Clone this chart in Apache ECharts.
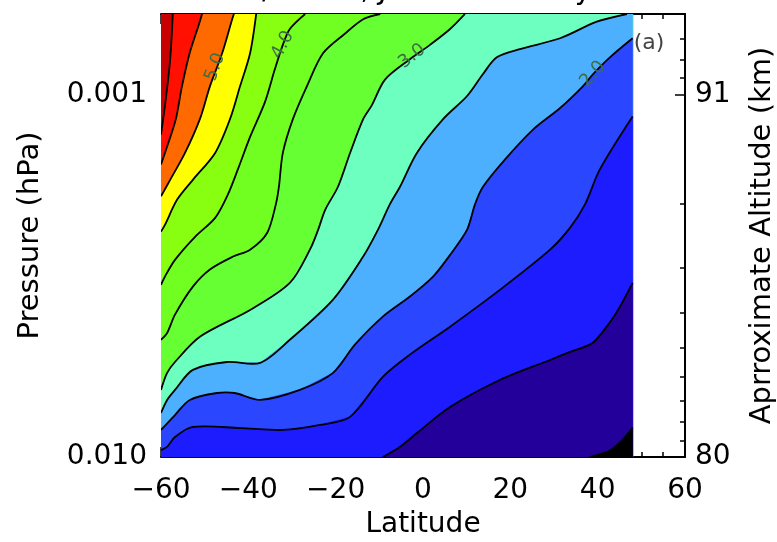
<!DOCTYPE html>
<html><head><meta charset="utf-8">
<script src="https://cdn.jsdelivr.net/npm/echarts@6/dist/echarts.min.js"></script>
<style>html,body{margin:0;padding:0;background:#fff}#c{width:777px;height:542px}</style>
</head><body><div id="c"></div>
<script>
// ---- data (latitude in degrees, pressure in hPa) ----
const levels = [6.0, 5.5, 5.0, 4.5, 4.0, 3.5, 3.0, 2.5, 2.0, 1.5, 1.0, 0.5];
// bandColors[0] = above 6.0 ; bandColors[i+1] = band just below levels[i]
const bandColors = ['#c80000', '#ff1000', '#ff6a00', '#ffff00', '#88ff10', '#70ff20', '#66ff33',
                    '#6cffc0', '#4db0ff', '#2a46ff', '#1c1cff', '#24009a', '#000000'];
const c60 = [[-57.3,0.0006],[-57.9,0.0008],[-58.9,0.00103],[-60,0.00129]];
const c55 = [[-50.6,0.0006],[-51.3,0.00064],[-53.4,0.000766],[-55.2,0.00095],[-56.6,0.00117],[-58.4,0.00137],[-60,0.00156]];
const c50 = [[-43.3,0.0006],[-43.7,0.00062],[-46.0,0.00077],[-48.8,0.00095],[-51.1,0.00117],[-54.5,0.00145],[-57.9,0.00172],[-60,0.00191]];
const c45 = [[-38.2,0.0006],[-39.6,0.00077],[-41.9,0.00095],[-44.2,0.00117],[-47.6,0.00145],[-52.7,0.00172],[-56.3,0.00195],[-59.1,0.00229],[-60,0.00239]];
const c40 = [[-27.0,0.0006],[-30.5,0.00066],[-32.1,0.00073],[-33.9,0.00085],[-36.2,0.00105],[-39.6,0.00131],[-42.4,0.00161],[-44.7,0.00189],[-47.6,0.00219],[-52.2,0.00247],[-56.8,0.00286],[-59.1,0.00318],[-60,0.00335]];
const c35 = [[-9.8,0.0006],[-13.7,0.00062],[-17.9,0.00068],[-22.9,0.00077],[-26.6,0.00095],[-29.8,0.00117],[-32.1,0.00145],[-33.0,0.0018],[-33.7,0.00201],[-35.7,0.00241],[-39.6,0.00268],[-43.5,0.0028],[-48.8,0.00304],[-52.7,0.00339],[-56.8,0.00405],[-58.6,0.00455],[-60,0.00475]];
const c30 = [[9.6,0.0006],[6.2,0.00066],[1.6,0.00073],[-3.0,0.0008],[-8.7,0.00091],[-11.7,0.00107],[-13.7,0.00117],[-16.7,0.00145],[-19.5,0.0018],[-22.4,0.00208],[-24.0,0.00236],[-25.9,0.00268],[-30.5,0.00331],[-39.6,0.00393],[-51.1,0.00466],[-56.8,0.00547],[-58.6,0.00586],[-60,0.00653]];
const c25 = [[46.7,0.0006],[39.8,0.00063],[31.4,0.0007],[22.2,0.00075],[16.9,0.00079],[13.7,0.00088],[10.1,0.00101],[4.6,0.00117],[-1.4,0.00145],[-5.3,0.0018],[-7.6,0.00201],[-10.3,0.00236],[-13.7,0.0028],[-20.6,0.00368],[-30.5,0.00475],[-37.3,0.0055],[-44.9,0.00547],[-52.7,0.00575],[-56.8,0.00653],[-58.6,0.00696],[-60,0.00756]];
const c20 = [[48,0.0007],[42.8,0.00079],[38.9,0.00088],[36.6,0.00095],[31.4,0.00109],[25.2,0.00125],[18.8,0.00151],[13.7,0.0018],[11.9,0.00201],[10.1,0.00236],[6.2,0.00277],[2.3,0.00318],[-3.0,0.00361],[-9.2,0.0041],[-15.6,0.0049],[-20.6,0.00586],[-28.2,0.00653],[-37.3,0.00696],[-43.1,0.00666],[-47.2,0.00666],[-53.4,0.00696],[-56.8,0.00766],[-60,0.00842]];
const c15 = [[48,0.00115],[40.5,0.00161],[37.1,0.00201],[33.7,0.00233],[29.1,0.00268],[17.6,0.00346],[6.2,0.00437],[-3.0,0.00522],[-9.2,0.00601],[-16.7,0.00775],[-23.6,0.00816],[-32.1,0.00842],[-41.9,0.00832],[-52.7,0.00826],[-56.8,0.00881],[-58.6,0.00938],[-60,0.00957]];
const c10 = [[48,0.00331],[44.0,0.00405],[38.9,0.00484],[33.7,0.00513],[29.1,0.0054],[17.6,0.00613],[6.2,0.00728],[-1.4,0.00859],[-5.3,0.00938],[-9.2,0.01]];
const c05 = [[48,0.0083],[45.6,0.009],[42.8,0.0096],[38.2,0.01]];
const contours = [c60, c55, c50, c45, c40, c35, c30, c25, c20, c15, c10, c05];

const labelTexts = ['5.0', '4.0', '3.0', '2.0'];
const labelLats  = [-47.6, -32.1, -2.5, 38.9];
const labelPs    = [0.00084, 0.00073, 0.000785, 0.00088];
const labelRot   = [70, 62, 38, 48];

const LAT_MIN = -60, LAT_MAX = 48, P_TOP = 0.0006, P_BOT = 0.01;
const xMin = -60, xMax = 60, xStep = 20;
const pMajor = [0.001, 0.01];
const pMajorLabels = ['0.001', '0.010'];
const altLabels = ['91', '80'];
const pMinor = [0.0006, 0.0007, 0.0008, 0.0009, 0.002, 0.003, 0.004, 0.005, 0.006, 0.007, 0.008, 0.009];
const titleText = 'SABER/TIMED, Jan 2002 \u2013 May 2003';

// ---- chart ----
const FONT = '"DejaVu Sans", sans-serif';
function pickLabel(v, arr) {
  let best = 0, bd = 1e9;
  pMajor.forEach((t, i) => { const d = Math.abs(Math.log10(v) - Math.log10(t)); if (d < bd) { bd = d; best = i; } });
  return bd < 0.02 ? arr[best] : '';
}
function regionPoints(line, api) {
  const pts = line.map(d => api.coord(d));
  const s = line[0], e = line[line.length - 1];
  if (e[0] === LAT_MIN) pts.push(api.coord([LAT_MIN, P_BOT]));
  pts.push(api.coord([LAT_MAX, P_BOT]));
  if (s[1] === P_TOP) pts.push(api.coord([LAT_MAX, P_TOP]));
  return pts;
}
const axisLineStyle = { color: '#000', width: 2 };
const tickStyle = { color: '#000', width: 1.5 };
function xAx(pos, showLabel) {
  return {
    type: 'value', position: pos, min: xMin, max: xMax, interval: xStep,
    axisLine: { show: true, lineStyle: axisLineStyle },
    axisTick: { show: true, inside: true, length: 10, lineStyle: tickStyle },
    minorTick: { show: true, splitNumber: 4, length: 5, lineStyle: tickStyle },
    splitLine: { show: false },
    axisLabel: { show: showLabel, fontSize: 28, fontFamily: FONT, color: '#000', margin: 20,
      formatter: v => String(v).replace('-', '\u2212') },
    name: showLabel ? 'Latitude' : '', nameLocation: 'middle', nameGap: 54,
    nameTextStyle: { fontSize: 28, fontFamily: FONT, color: '#000' }
  };
}
function yAx(pos, major, labels, name, gap) {
  return {
    type: 'log', logBase: 10, position: pos, min: P_TOP, max: P_BOT, inverse: true,
    axisLine: { show: true, lineStyle: axisLineStyle },
    axisTick: { show: true, inside: true, length: major ? 10 : 5, lineStyle: tickStyle,
      customValues: major ? pMajor : pMinor },
    minorTick: { show: false },
    splitLine: { show: false },
    axisLabel: { show: !!labels, customValues: pMajor, fontSize: 28, fontFamily: FONT, color: '#000',
      margin: pos === 'left' ? 14 : 10, formatter: v => labels ? pickLabel(v, labels) : '' },
    name: name || '', nameLocation: 'middle', nameGap: gap || 0, nameRotate: 90,
    nameTextStyle: { fontSize: 29, fontFamily: FONT, color: '#000' }
  };
}

const chart = echarts.init(document.getElementById('c'));
chart.setOption({
  animation: false,
  backgroundColor: '#fff',
  grid: { left: 161, right: 92, top: 14, bottom: 85, containLabel: false, outerBoundsMode: 'none' },
  xAxis: [xAx('bottom', true), xAx('top', false)],
  yAxis: [
    yAx('left', true, pMajorLabels, 'Pressure (hPa)', 116),
    yAx('left', false, null),
    yAx('right', true, altLabels, 'Aprroximate Altitude (km)', 63),
    yAx('right', false, null)
  ],
  graphic: [
    { type: 'text', x: 420, y: 6, z: 100, style: { text: titleText, font: '28px ' + FONT, align: 'center', verticalAlign: 'bottom', fill: '#000' } },
    { type: 'text', x: 649, y: 43, z: 100, style: { text: '(a)', font: '22px ' + FONT, align: 'center', verticalAlign: 'middle', fill: '#444' } }
  ],
  series: [
    {
      type: 'custom', xAxisIndex: 0, yAxisIndex: 0, clip: true, silent: true, z: 1,
      encode: { x: 0, y: 1 },
      data: [[LAT_MIN, P_TOP, -1]].concat(contours.map((c, i) => [c[0][0], c[0][1], i])),
      renderItem(params, api) {
        const i = api.value(2);
        const pts = i < 0
          ? [[LAT_MIN, P_TOP], [LAT_MAX, P_TOP], [LAT_MAX, P_BOT], [LAT_MIN, P_BOT]].map(d => api.coord(d))
          : regionPoints(contours[i], api);
        const col = bandColors[i + 1];
        return { type: 'polygon', shape: { points: pts }, style: { fill: col, stroke: col, lineWidth: 0.5 } };
      }
    },
    {
      type: 'custom', xAxisIndex: 0, yAxisIndex: 0, clip: true, silent: true, z: 2,
      encode: { x: 0, y: 1 },
      data: contours.map((c, i) => [c[0][0], c[0][1], i]),
      renderItem(params, api) {
        const pts = contours[api.value(2)].map(d => api.coord(d));
        return { type: 'polyline', shape: { points: pts, smooth: 0.3 }, style: { fill: null, stroke: '#000', lineWidth: 1.8 } };
      }
    },
    {
      type: 'custom', xAxisIndex: 0, yAxisIndex: 0, clip: true, silent: true, z: 3,
      encode: { x: 0, y: 1 },
      data: labelTexts.map((t, i) => [labelLats[i], labelPs[i], i]),
      renderItem(params, api) {
        const i = api.value(2);
        const pt = api.coord([labelLats[i], labelPs[i]]);
        return { type: 'text', x: pt[0], y: pt[1], rotation: labelRot[i] * Math.PI / 180,
          style: { text: labelTexts[i], font: '18px ' + FONT, fill: '#3c6e46', align: 'center', verticalAlign: 'middle' } };
      }
    }
  ]
});
</script>
</body></html>
